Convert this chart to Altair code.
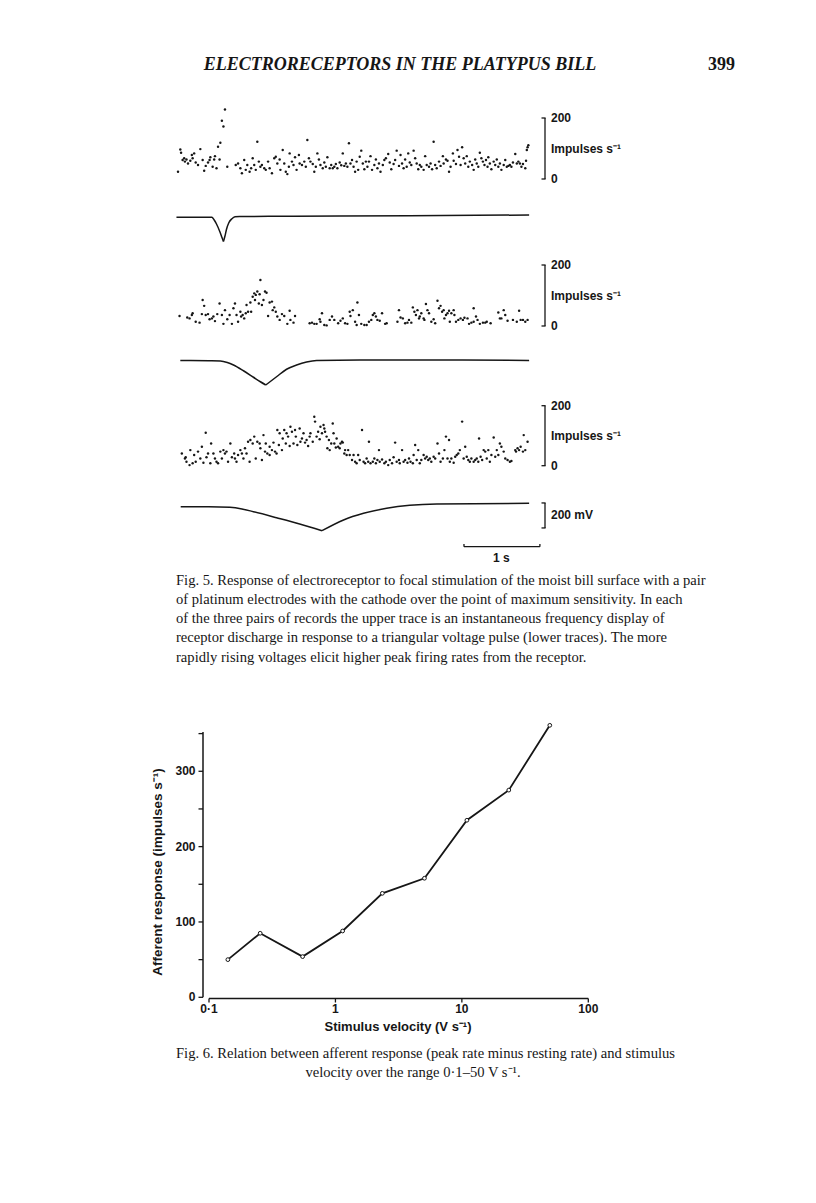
import altair as alt
import pandas as pd

# ---------------- Fig. 5 : instantaneous frequency (time s, rate impulses/s) -------------
p1_t = [0.00,0.03,0.04,0.06,0.08,0.09,0.11,0.13,0.16,0.18,0.19,0.21,0.23,0.26,0.29,0.32,0.34,0.36,0.39,0.41,
        0.42,0.45,0.47,0.48,0.50,0.52,0.54,0.55,0.57,0.59,0.61,0.64,
        0.75,0.78,0.81,0.83,0.86,0.88,0.90,0.93,0.95,0.97,0.99,1.01,1.03,1.05,1.07,1.09,1.12,1.14,1.17,1.19,
        1.22,1.25,1.27,1.29,1.32,1.33,1.36,1.38,1.40,1.42,1.44,1.45,1.48,1.50,1.52,1.54,1.57,1.58,1.61,1.64,
        1.66,1.68,1.70,1.72,1.75,1.77,1.79,1.81,1.83,1.85,1.88,1.90,1.92,1.94,1.97,1.99,
        2.01,2.03,2.05,2.07,2.10,2.12,2.14,2.16,2.18,2.20,2.22,2.24,2.26,2.28,2.30,2.32,2.34,2.36,2.38,2.40,
        2.42,2.44,2.46,2.48,2.50,2.52,2.55,2.57,2.59,2.61,2.63,2.66,2.68,2.70,2.73,2.75,2.77,2.80,2.82,2.84,
        2.87,2.89,2.91,2.93,2.95,2.97,2.99,
        3.01,3.03,3.06,3.08,3.10,3.12,3.14,3.16,3.19,3.21,3.23,3.26,3.28,3.30,3.32,3.34,3.36,3.39,3.41,3.44,
        3.45,3.48,3.50,3.52,3.54,3.57,3.58,3.61,3.63,3.65,3.67,3.69,3.71,3.73,3.75,3.77,3.79,3.82,3.84,3.86,
        3.88,3.90,3.92,3.94,3.96,3.98,
        4.00,4.02,4.03,4.05,4.07,4.10,4.12,4.14,4.16,4.18,4.20,4.23,4.25,4.27,4.29,4.31,4.33,4.35,4.38,4.40,
        4.42,4.44,4.46,4.48,4.51,4.52,4.53,4.54,4.55]
p1_r = [24,97,86,62,68,57,64,51,60,79,68,84,54,46,98,62,27,43,54,62,
        71,40,64,75,35,106,64,119,191,172,228,40,
        46,51,35,19,62,30,46,24,35,68,46,30,122,57,40,46,35,30,57,35,
        19,68,73,51,64,30,95,51,24,16,40,84,57,46,71,30,79,51,46,57,
        40,128,68,57,49,24,40,84,64,46,35,54,40,71,35,46,
        35,40,49,35,54,45,84,43,51,40,117,51,62,40,24,57,30,73,93,51,
        32,57,40,57,75,30,46,64,35,51,24,46,62,68,82,54,32,49,62,93,
        43,79,51,35,64,40,84,
        54,46,93,68,51,32,46,40,30,75,46,40,51,32,122,46,35,57,43,75,
        51,64,60,24,40,84,60,49,95,73,46,104,68,51,75,40,57,46,30,64,
        51,40,86,68,57,46,
        62,40,71,51,32,57,46,64,40,51,30,46,62,40,43,46,40,54,82,51,
        57,51,40,49,35,60,95,104,111]

p2_t = [0.02,0.12,0.15,0.18,0.19,0.23,0.28,0.31,0.32,0.34,0.36,0.39,0.41,0.44,0.46,0.48,0.51,0.54,0.57,0.59,
        0.61,0.64,0.67,0.70,0.72,0.74,0.76,0.78,0.81,0.82,0.84,0.86,0.88,0.89,0.91,0.94,0.95,0.97,0.99,1.00,
        1.01,1.03,1.05,1.06,1.07,1.09,1.11,1.13,1.15,1.17,1.19,1.22,1.23,1.25,1.27,1.29,1.32,1.35,1.38,1.42,
        1.45,1.46,1.50,1.52,
        1.71,1.74,1.77,1.80,1.84,1.85,1.87,1.90,1.93,1.97,2.00,2.03,2.08,2.11,2.14,2.17,2.20,2.23,2.24,2.27,
        2.30,2.32,2.33,2.35,2.38,2.42,2.45,2.48,2.51,2.53,2.55,2.57,2.59,2.62,2.65,2.69,2.71,2.85,2.87,2.89,
        2.92,2.95,2.98,3.00,3.03,3.05,3.07,3.09,3.11,3.13,3.14,3.16,3.19,3.20,3.22,3.24,3.26,3.29,3.32,3.34,
        3.37,3.39,3.41,3.43,3.45,3.46,3.48,3.50,3.52,3.53,3.55,3.58,3.59,3.61,3.64,3.67,3.70,3.72,3.76,3.78,
        3.81,3.84,3.84,3.87,3.89,3.92,3.96,3.99,4.01,4.06,4.16,4.18,4.20,4.23,4.25,4.28,4.35,4.40,4.43,4.45,
        4.48,4.51,4.54]
p2_r = [33,28,25,36,42,14,11,39,85,66,36,39,22,25,31,16,39,74,36,7,
        52,22,36,7,58,74,36,14,47,31,36,25,42,69,47,77,47,96,107,85,
        102,113,74,104,151,69,85,113,109,33,77,80,52,61,47,31,20,39,33,7,
        50,20,11,33,
        9,11,7,7,22,14,42,3,2,20,31,20,9,17,25,9,7,47,33,52,
        14,3,77,36,7,3,3,14,20,36,42,31,20,17,42,7,9,14,52,28,
        25,9,11,20,11,61,47,36,52,25,31,42,25,20,72,52,42,14,22,9,
        83,58,66,47,52,25,36,42,50,14,42,52,36,14,20,25,20,27,25,7,
        11,14,58,31,20,7,11,11,14,9,44,25,25,52,36,17,20,14,50,20,
        20,14,20]

p3_t = [0.05,0.09,0.10,0.11,0.15,0.16,0.19,0.21,0.23,0.26,0.29,0.31,0.33,0.36,0.37,0.39,0.42,0.43,0.46,0.48,
        0.50,0.52,0.55,0.57,0.59,0.61,0.63,0.65,0.68,0.70,0.73,0.74,0.76,0.78,0.81,0.83,0.85,0.87,0.89,0.91,
        0.93,0.94,0.97,0.99,1.01,1.03,1.06,1.07,1.09,1.11,1.13,1.14,1.16,1.19,1.19,1.22,1.24,1.26,1.28,1.29,
        1.31,1.32,1.35,1.36,1.38,1.40,1.41,1.43,1.45,1.46,1.48,1.50,1.52,1.53,1.55,1.58,1.59,1.61,1.63,1.65,
        1.67,1.69,1.71,1.72,1.75,1.77,1.78,1.80,1.82,1.84,1.85,1.87,1.89,1.90,1.91,1.93,1.94,1.96,1.97,1.99,
        2.01,2.02,2.03,2.05,2.06,2.08,2.10,2.11,2.13,2.14,2.16,2.17,2.19,2.21,2.23,2.26,2.28,2.30,2.32,2.34,
        2.36,2.39,2.41,2.43,2.45,2.47,2.48,2.50,2.53,2.55,2.57,2.59,2.61,2.62,2.65,2.68,2.70,2.73,2.75,2.78,
        2.80,2.82,2.84,2.87,2.88,2.91,2.93,2.95,2.98,3.00,3.02,3.05,3.06,3.08,3.10,3.12,3.14,3.16,3.19,3.21,
        3.23,3.25,3.27,3.29,3.32,3.34,3.37,3.39,3.41,3.44,3.46,3.48,3.50,3.52,3.53,3.55,3.58,3.60,3.62,3.64,
        3.66,3.69,3.71,3.73,3.75,3.77,3.79,3.81,3.84,3.86,3.88,3.90,3.91,3.93,3.95,3.97,3.99,4.01,4.03,4.05,
        4.07,4.10,4.12,4.14,4.16,4.18,4.20,4.23,4.25,4.28,4.31,4.33,4.38,4.39,4.41,4.43,4.45,4.48,4.49,4.51,
        4.54]
p3_r = [41,24,28,13,2,52,8,36,13,47,24,63,10,110,28,41,8,74,41,24,
        13,8,47,24,52,41,47,13,74,28,41,24,13,36,52,41,24,58,41,80,
        13,86,74,97,24,80,74,58,19,102,47,74,41,63,36,52,77,47,41,119,
        69,108,52,91,119,74,108,97,66,130,113,74,119,97,69,124,80,91,108,77,
        86,66,97,108,80,163,147,97,113,88,130,108,136,124,113,97,58,86,52,74,
        141,108,74,61,91,63,58,74,80,77,41,52,36,52,36,19,36,13,8,36,
        19,119,13,8,24,13,80,8,13,24,8,19,52,13,21,8,13,2,19,8,
        28,77,13,19,8,52,13,19,10,24,13,8,36,69,19,52,8,19,36,24,
        30,19,24,13,30,24,74,41,13,24,52,97,24,86,13,24,10,30,36,41,
        52,147,24,63,30,19,13,24,13,19,24,13,91,30,19,52,47,24,52,13,
        36,94,30,52,36,74,63,47,24,19,13,16,52,47,58,52,63,47,102,52,
        80]

# triangular voltage pulses (time s, mV): falling limb and rising limb share the apex
v1_fall_t = [-0.02, 0.40, 0.44, 0.47, 0.50, 0.545, 0.57, 0.59]
v1_fall_mv = [-6, -6, -6, -28, -60, -124, -166, -200]
v1_rise_t = [0.59, 0.61, 0.63, 0.66, 0.70, 0.74, 0.80, 1.50, 3.00, 4.56]
v1_rise_mv = [-200, -156, -102, -50, -18, -2, 0, 2, 6, 12]
v2_fall_t = [0.03, 0.40, 0.55, 0.64, 0.72, 0.85, 0.98, 1.07, 1.14]
v2_fall_mv = [0, -2, -4, -16, -36, -82, -134, -170, -196]
v2_rise_t = [1.14, 1.28, 1.41, 1.54, 1.67, 1.80, 2.50, 3.50, 4.56]
v2_rise_mv = [-196, -130, -70, -36, -12, 0, 4, 4, 0]
v3_fall_t = [0.035, 0.40, 0.675, 0.83, 0.98, 1.28, 1.58, 1.87]
v3_fall_mv = [0, 0, -5, -18, -40, -88, -138, -192]
v3_rise_t = [1.87, 2.15, 2.41, 2.71, 3.01, 3.36, 4.56]
v3_rise_mv = [-192, -106, -53, -13, 11, 22, 27]

# ---------------- Fig. 6 ----------------
velocity = [0.141, 0.254, 0.55, 1.14, 2.35, 5.06, 10.96, 23.5, 49.6]
response = [50, 85, 54, 88, 138, 158, 235, 275, 361]
y_major = [0, 100, 200, 300]
y_minor = [50, 150, 250, 350]
x_ticks = [0.1, 1, 10, 100]
x_labels = ["0·1", "1", "10", "100"]

header = "ELECTRORECEPTORS IN THE PLATYPUS BILL"
page_no = "399"
cap5 = ["Fig. 5. Response of electroreceptor to focal stimulation of the moist bill surface with a pair",
        "of platinum electrodes with the cathode over the point of maximum sensitivity. In each",
        "of the three pairs of records the upper trace is an instantaneous frequency display of",
        "receptor discharge in response to a triangular voltage pulse (lower traces). The more",
        "rapidly rising voltages elicit higher peak firing rates from the receptor."]
cap6_1 = "Fig. 6. Relation between afferent response (peak rate minus resting rate) and stimulus"
cap6_2 = "velocity over the range 0·1–50 V s⁻¹."

INK = "#161616"
SANS = "Liberation Sans"
SERIF = "Liberation Serif"
one = pd.DataFrame({"k": [0]})


def tscale():
    return alt.Scale(domain=[0, 4.55], range=[170, 520.35], nice=False, zero=False)


def rscale(rng):
    return alt.Scale(domain=[0, 200], range=rng, nice=False, zero=False)


def vscale(rng):
    return alt.Scale(domain=[-200, 0], range=rng, nice=False, zero=False)


def raster(t, r, rng):
    df = pd.DataFrame({"t": t, "r": r})
    return alt.Chart(df).mark_circle(size=6, color=INK, opacity=1).encode(
        x=alt.X("t:Q", scale=tscale(), axis=None),
        y=alt.Y("r:Q", scale=rscale(rng), axis=None))


def trace(ft, fmv, rt, rmv, rng):
    df = pd.DataFrame({"t": ft + rt, "mv": fmv + rmv,
                       "limb": ["fall"] * len(ft) + ["rise"] * len(rt)})
    return alt.Chart(df).mark_line(color=INK, strokeWidth=1.5, interpolate="monotone").encode(
        x=alt.X("t:Q", scale=tscale(), axis=None),
        y=alt.Y("mv:Q", scale=vscale(rng), axis=None),
        detail="limb:N")


def bracket(lo, hi, scale, labels, label_vals):
    vert = alt.Chart(pd.DataFrame({"lo": [lo], "hi": [hi]})).mark_rule(color=INK, strokeWidth=1.3).encode(
        x=alt.value(537), y=alt.Y("lo:Q", scale=scale, axis=None), y2="hi:Q")
    ends = alt.Chart(pd.DataFrame({"v": [lo, hi]})).mark_rule(color=INK, strokeWidth=1.3).encode(
        x=alt.value(533.5), x2=alt.value(537.6), y=alt.Y("v:Q", scale=scale, axis=None))
    txt = alt.Chart(pd.DataFrame({"v": label_vals, "lab": labels})).mark_text(
        align="left", baseline="middle", font=SANS, fontSize=12, fontWeight="bold", color=INK).encode(
        x=alt.value(543), y=alt.Y("v:Q", scale=scale, axis=None), text="lab:N")
    return [vert, ends, txt]


R1, R2, R3 = [171, 110], [318, 257], [457.7, 397.7]
V1, V2, V3 = [233.5, 208.5], [377.5, 352.5], [523.7, 498.7]

layers = []
layers += [raster(p1_t, p1_r, R1), trace(v1_fall_t, v1_fall_mv, v1_rise_t, v1_rise_mv, V1)]
layers += bracket(0, 200, rscale(R1), ["200", "Impulses s⁻¹", "0"], [200, 100, 0])
layers += [raster(p2_t, p2_r, R2), trace(v2_fall_t, v2_fall_mv, v2_rise_t, v2_rise_mv, V2)]
layers += bracket(0, 200, rscale(R2), ["200", "Impulses s⁻¹", "0"], [200, 100, 0])
layers += [raster(p3_t, p3_r, R3), trace(v3_fall_t, v3_fall_mv, v3_rise_t, v3_rise_mv, V3)]
layers += bracket(0, 200, rscale(R3), ["200", "Impulses s⁻¹", "0"], [200, 100, 0])
# 200 mV calibration
layers += bracket(-170, 30, vscale(V3), ["200 mV"], [-70])

# 1 s time bar
tb = pd.DataFrame({"a": [3.714], "b": [4.70], "v": [-320]})
layers.append(alt.Chart(tb).mark_rule(color=INK, strokeWidth=1.3).encode(
    x=alt.X("a:Q", scale=tscale(), axis=None), x2="b:Q",
    y=alt.Y("v:Q", scale=vscale(V3), axis=None)))
tbe = pd.DataFrame({"t": [3.714, 4.70], "lo": [-320, -320], "hi": [-298, -298]})
layers.append(alt.Chart(tbe).mark_rule(color=INK, strokeWidth=1.3).encode(
    x=alt.X("t:Q", scale=tscale(), axis=None),
    y=alt.Y("lo:Q", scale=vscale(V3), axis=None), y2="hi:Q"))
layers.append(alt.Chart(pd.DataFrame({"t": [4.2], "v": [-410], "lab": ["1 s"]})).mark_text(
    align="center", baseline="middle", font=SANS, fontSize=12, fontWeight="bold", color=INK).encode(
    x=alt.X("t:Q", scale=tscale(), axis=None), y=alt.Y("v:Q", scale=vscale(V3), axis=None), text="lab:N"))

# ---------------- Fig. 6 chart ----------------
def x6():
    return alt.Scale(type="log", domain=[0.1, 100], range=[201, 580.3], nice=False)


def y6():
    return alt.Scale(domain=[0, 352], range=[989.3, 724.1], nice=False, zero=False)


d6 = pd.DataFrame({"v": velocity, "r": response})
layers.append(alt.Chart(d6).mark_line(color=INK, strokeWidth=1.8).encode(
    x=alt.X("v:Q", scale=x6(), axis=None), y=alt.Y("r:Q", scale=y6(), axis=None)))
layers.append(alt.Chart(d6).mark_point(shape="circle", filled=True, color="white", stroke=INK,
                                       strokeWidth=1, size=14, opacity=1).encode(
    x=alt.X("v:Q", scale=x6(), axis=None), y=alt.Y("r:Q", scale=y6(), axis=None)))
# y axis
layers.append(alt.Chart(pd.DataFrame({"lo": [0], "hi": [352]})).mark_rule(color=INK, strokeWidth=1.5).encode(
    x=alt.value(195), y=alt.Y("lo:Q", scale=y6(), axis=None), y2="hi:Q"))
layers.append(alt.Chart(pd.DataFrame({"v": y_major + y_minor})).mark_rule(color=INK, strokeWidth=1.3).encode(
    x=alt.value(190.5), x2=alt.value(195), y=alt.Y("v:Q", scale=y6(), axis=None)))
layers.append(alt.Chart(pd.DataFrame({"v": y_major, "lab": [str(v) for v in y_major]})).mark_text(
    align="right", baseline="middle", font=SANS, fontSize=12, fontWeight="bold", color=INK).encode(
    x=alt.value(187.5), y=alt.Y("v:Q", scale=y6(), axis=None), text="lab:N"))
# x axis
layers.append(alt.Chart(pd.DataFrame({"a": [x_ticks[0]], "b": [x_ticks[-1]]})).mark_rule(
    color=INK, strokeWidth=1.5).encode(
    x=alt.X("a:Q", scale=x6(), axis=None), x2="b:Q", y=alt.value(990.5)))
layers.append(alt.Chart(pd.DataFrame({"v": x_ticks})).mark_rule(color=INK, strokeWidth=1.3).encode(
    x=alt.X("v:Q", scale=x6(), axis=None), y=alt.value(990.5), y2=alt.value(994.5)))
layers.append(alt.Chart(pd.DataFrame({"v": x_ticks, "lab": x_labels})).mark_text(
    align="center", baseline="middle", font=SANS, fontSize=12, fontWeight="bold", color=INK).encode(
    x=alt.X("v:Q", scale=x6(), axis=None), y=alt.value(1000.5), text="lab:N"))
layers.append(alt.Chart(one).mark_text(text="Stimulus velocity (V s⁻¹)", align="center", baseline="middle",
                                       font=SANS, fontSize=13, fontWeight="bold", color=INK).encode(
    x=alt.value(390), y=alt.value(1019)))
layers.append(alt.Chart(one).mark_text(text="Afferent response (impulses s⁻¹)", angle=270, align="center",
                                       baseline="middle", font=SANS, fontSize=13.5, fontWeight="bold",
                                       color=INK).encode(x=alt.value(150), y=alt.value(864)))

# ---------------- page text ----------------
layers.append(alt.Chart(one).mark_text(text=header, align="center", baseline="middle", font=SERIF,
                                       fontSize=18, fontStyle="italic", fontWeight="bold", color=INK).encode(
    x=alt.value(392), y=alt.value(57)))
layers.append(alt.Chart(one).mark_text(text=page_no, align="right", baseline="middle", font=SERIF,
                                       fontSize=18, fontWeight="bold", color=INK).encode(
    x=alt.value(727), y=alt.value(57)))
layers.append(alt.Chart(one).mark_text(text=cap5, align="left", baseline="top", font=SERIF, fontSize=14.6,
                                       lineHeight=19.25, color=INK).encode(
    x=alt.value(168), y=alt.value(564.5)))
layers.append(alt.Chart(one).mark_text(text=cap6_1, align="left", baseline="middle", font=SERIF,
                                       fontSize=14.6, color=INK).encode(x=alt.value(168), y=alt.value(1046)))
layers.append(alt.Chart(one).mark_text(text=cap6_2, align="center", baseline="middle", font=SERIF,
                                       fontSize=14.6, color=INK).encode(x=alt.value(405), y=alt.value(1065)))

chart = alt.layer(*layers).resolve_scale(x="independent", y="independent").properties(
    width=800, height=1187, autosize=alt.AutoSizeParams(type="none"), padding=0, background="white"
).configure_view(stroke=None)

chart.save("out.html", embed_options={"renderer": "svg", "actions": False})
